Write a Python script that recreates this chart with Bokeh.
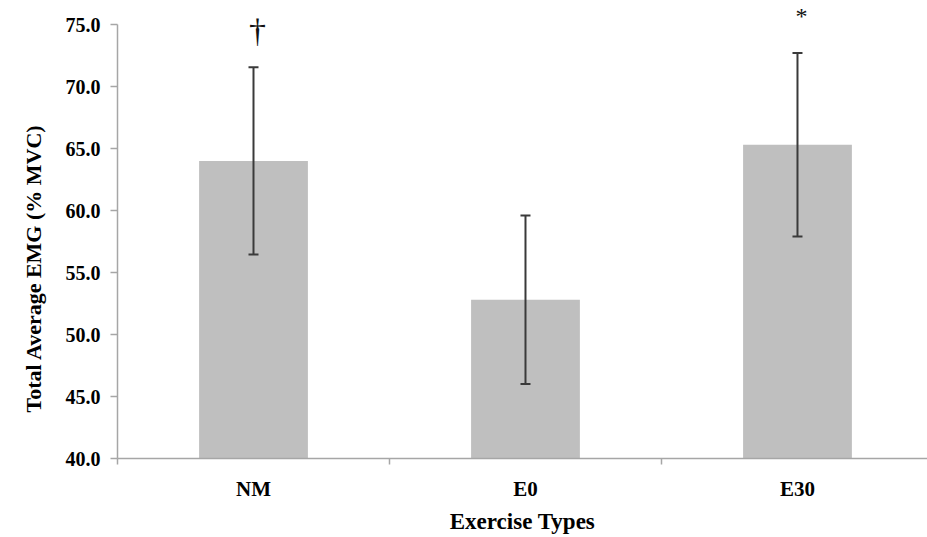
from bokeh.plotting import figure
from bokeh.models import (ColumnDataSource, Range1d, FixedTicker, Whisker, TeeHead,
                          NumeralTickFormatter, Title)
from bokeh.core.properties import value
from bokeh.embed import file_html
from bokeh.resources import INLINE

# Mean total EMG (%MVC) per exercise type, with standard deviations
categories = ["NM", "E0", "E30"]
means = [64.0, 52.8, 65.3]
sds = [7.55, 6.8, 7.4]
marks = ["\u2020", "", "*"]          # significance symbols above the error bars
y_ticks = [40, 45, 50, 55, 60, 65, 70, 75]

SERIF = "Liberation Serif"

xs = [i + 0.5 for i in range(len(categories))]
src = ColumnDataSource(dict(
    x=xs,
    mean=means,
    upper=[m + s for m, s in zip(means, sds)],
    lower=[m - s for m, s in zip(means, sds)],
))

p = figure(width=927, height=537, output_backend="svg", toolbar_location=None,
           x_range=Range1d(0, 2.978), y_range=Range1d(40, 76.94),
           min_border_left=117, min_border_right=0, min_border_top=0,
           min_border_bottom=79)
p.outline_line_color = None
p.xgrid.visible = False
p.ygrid.visible = False
p.background_fill_color = "white"
p.border_fill_color = "white"

p.vbar(x="x", top="mean", bottom=40, width=0.4, source=src,
       fill_color="#bfbfbf", line_color=None)

err = Whisker(base="x", upper="upper", lower="lower", source=src,
              line_color="#3a3a3a", line_width=2,
              upper_head=TeeHead(size=10, line_color="#3a3a3a", line_width=2),
              lower_head=TeeHead(size=10, line_color="#3a3a3a", line_width=2))
err.level = "overlay"
p.add_layout(err)

# significance markers sit a fixed distance above each upper whisker
mk = ColumnDataSource(dict(
    x=[x for x, k in zip(xs, marks) if k],
    y=[m + s + 3.0 for m, s, k in zip(means, sds, marks) if k],
    t=[k for k in marks if k],
    size=["34px" if k == "\u2020" else "24px" for k in marks if k],
))
p.text(x="x", y="y", text="t", source=mk, text_align="center",
       text_baseline="middle", x_offset=4, text_font=value(SERIF),
       text_font_size="size", text_color="#111111")

axis_color = "#a6a6a6"

# y axis
ya = p.yaxis[0]
ya.ticker = FixedTicker(ticks=y_ticks)
ya.bounds = (40, 75)
ya.formatter = NumeralTickFormatter(format="0.0")
ya.axis_line_color = axis_color
ya.axis_line_width = 1.5
ya.major_tick_line_color = axis_color
ya.major_tick_line_width = 1.5
ya.major_tick_out = 7
ya.major_tick_in = 0
ya.minor_tick_line_color = None
ya.major_label_standoff = 10
ya.major_label_text_font = SERIF
ya.major_label_text_font_style = "bold"
ya.major_label_text_font_size = "20px"
ya.major_label_text_color = "#000000"

# vertical y title, starting a little above the bottom of the axis
ytitle = Title(text="Total Average EMG (% MVC)", align="left", offset=46,
               text_font=SERIF, text_font_style="bold", text_font_size="22px",
               text_color="#000000", standoff=33)
p.add_layout(ytitle, "left")

# x axis: labels at category centres, tick marks at category boundaries
xa = p.xaxis[0]
xa.ticker = FixedTicker(ticks=xs, minor_ticks=list(range(len(categories) + 1)))
xa.major_label_overrides = {x: c for x, c in zip(xs, categories)}
xa.axis_line_color = axis_color
xa.axis_line_width = 1.5
xa.major_tick_line_color = None
xa.major_tick_out = 0
xa.major_tick_in = 0
xa.minor_tick_line_color = axis_color
xa.minor_tick_line_width = 1.5
xa.minor_tick_out = 6
xa.minor_tick_in = 0
xa.major_label_standoff = 12
xa.major_label_text_font = SERIF
xa.major_label_text_font_style = "bold"
xa.major_label_text_font_size = "21px"
xa.major_label_text_color = "#000000"
xa.axis_label = "Exercise Types"
xa.axis_label_text_font = SERIF
xa.axis_label_text_font_style = "bold"
xa.axis_label_text_font_size = "23px"
xa.axis_label_text_color = "#000000"
xa.axis_label_standoff = 5

open("out.html", "w").write(file_html(p, INLINE))
